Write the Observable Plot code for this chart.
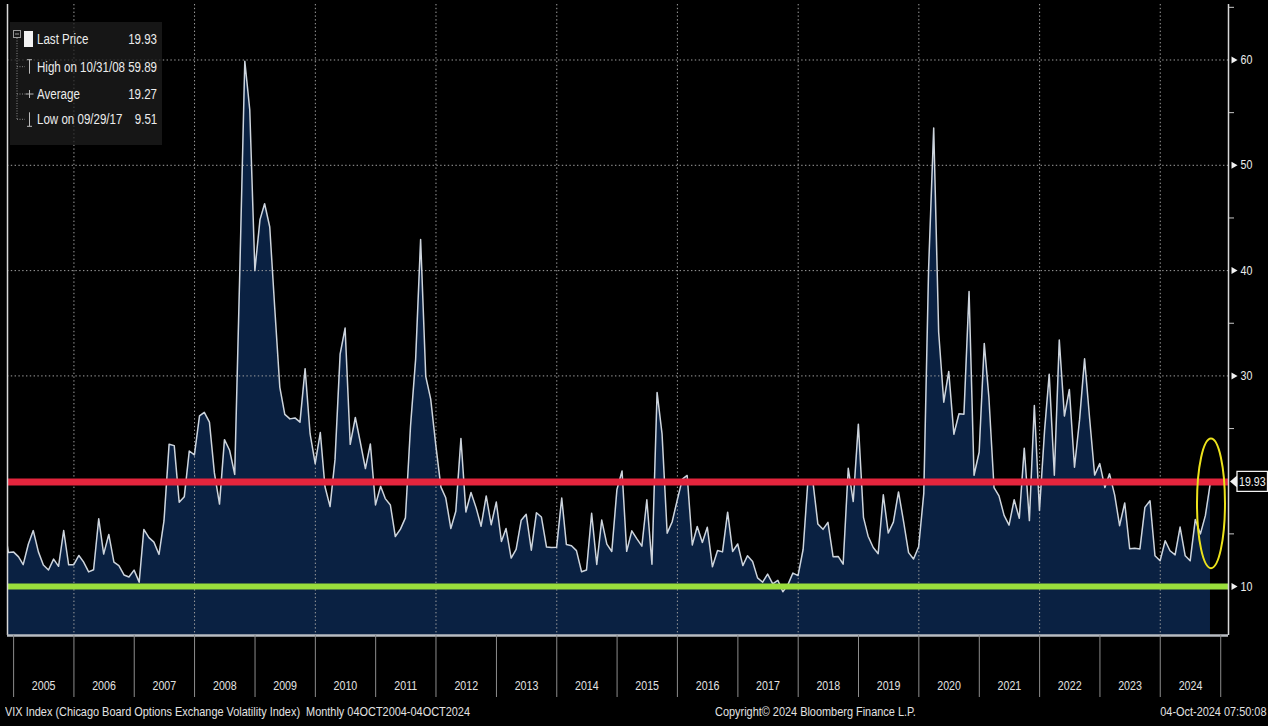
<!DOCTYPE html>
<html>
<head>
<meta charset="utf-8">
<script src="https://cdn.jsdelivr.net/npm/d3@7"></script>
<script src="https://cdn.jsdelivr.net/npm/@observablehq/plot@0.6"></script>
<style>
  html, body { margin: 0; padding: 0; background: #000; }
  #wrap { position: relative; width: 1268px; height: 726px; overflow: hidden;
          font-family: "Liberation Sans", Arial, sans-serif; color: #e6e6e6; }
  #chart { position: absolute; left: 0; top: 0; }
  #legend { position: absolute; left: 10px; top: 22px; width: 152px; height: 123px;
            background: rgba(30,30,30,0.75); }
  #legend svg { position: absolute; left: 0; top: 0; }
  .lrow { position: absolute; left: 27px; right: 5px; height: 18px; line-height: 18px;
          font-size: 14px; color: #ececec; white-space: nowrap; }
  .lrow span { display: inline-block; transform-origin: 0 50%; }
  .lrow .v { position: absolute; right: 0; top: 0; transform-origin: 100% 50%; }
  #footer { position: absolute; left: 0; top: 700px; width: 1268px; height: 24px; }
  #footer span { position: absolute; top: 0; line-height: 24px; font-size: 13px; color: #e2e2e2;
                 white-space: pre; display: inline-block; transform-origin: 0 50%; }
  #footer span.r { transform-origin: 100% 50%; }
</style>
</head>
<body>
<div id="wrap">
  <div id="chart"></div>
  <div id="legend"></div>
  <div id="footer"></div>
</div>
<script>
// ---------------- DATA (monthly closes, VIX Index) ----------------
const firstYear = 2004;
const firstMonth = 9; // October 2004
const vix2004 = [16.27, 13.24, 13.29];
const vix2005 = [12.82, 12.08, 14.02, 15.31, 13.29, 12.04, 11.57, 12.60, 11.92, 15.32, 12.06, 12.07];
const vix2006 = [12.95, 12.34, 11.39, 11.59, 16.44, 13.08, 14.95, 12.31, 11.98, 11.10, 10.91, 11.56];
const vix2007 = [10.42, 15.42, 14.64, 14.22, 13.05, 16.23, 23.52, 23.38, 18.00, 18.53, 22.87, 22.50];
const vix2008 = [26.20, 26.54, 25.61, 20.79, 17.83, 23.95, 22.94, 20.65, 39.39, 59.89, 55.28, 40.00];
const vix2009 = [44.84, 46.35, 44.14, 36.50, 28.92, 26.35, 25.92, 26.01, 25.61, 30.69, 24.51, 21.68];
const vix2010 = [24.62, 19.50, 17.59, 22.05, 32.07, 34.54, 23.50, 26.05, 23.70, 21.20, 23.54, 17.75];
const vix2011 = [19.53, 18.35, 17.74, 14.75, 15.45, 16.52, 25.25, 31.62, 42.96, 29.96, 27.80, 23.40];
const vix2012 = [19.44, 18.43, 15.50, 17.15, 24.06, 17.08, 18.93, 17.47, 15.73, 18.60, 15.87, 18.02];
const vix2013 = [14.28, 15.51, 12.70, 13.52, 16.30, 16.86, 13.45, 17.01, 16.60, 13.75, 13.70, 13.72];
const vix2014 = [18.41, 14.00, 13.88, 13.41, 11.40, 11.57, 16.95, 12.09, 16.31, 14.03, 13.33, 19.20];
const vix2015 = [20.97, 13.34, 15.29, 14.55, 13.84, 18.23, 12.12, 28.43, 24.50, 15.07, 16.13, 18.21];
const vix2016 = [20.20, 20.55, 13.95, 15.70, 14.19, 15.63, 11.87, 13.42, 13.29, 17.06, 13.33, 14.04];
const vix2017 = [11.99, 12.92, 12.37, 10.82, 10.41, 11.18, 10.26, 10.59, 9.51, 10.18, 11.28, 11.04];
const vix2018 = [13.54, 19.85, 19.97, 15.93, 15.43, 16.09, 12.83, 12.86, 12.12, 21.23, 18.07, 25.42];
const vix2019 = [16.57, 14.78, 13.71, 13.12, 18.71, 15.08, 16.12, 18.98, 16.24, 13.22, 12.62, 13.78];
const vix2020 = [18.84, 40.11, 53.54, 34.15, 27.51, 30.43, 24.46, 26.41, 26.37, 38.02, 20.57, 22.75];
const vix2021 = [33.09, 27.95, 19.40, 18.61, 16.76, 15.83, 18.24, 16.48, 23.14, 16.26, 27.19, 17.22];
const vix2022 = [24.83, 30.15, 20.56, 33.40, 26.19, 28.71, 21.33, 25.87, 31.62, 25.88, 20.58, 21.67];
const vix2023 = [19.40, 20.70, 18.70, 15.78, 17.94, 13.59, 13.63, 13.57, 17.52, 18.14, 12.92, 12.45];
const vix2024 = [14.35, 13.40, 13.01, 15.65, 12.92, 12.44, 16.36, 15.00, 16.73, 19.93];

const lastPrice = 19.93;
const lowLevel = 10;
const highlightRange = [11.7, 24.0]; // value span circled on the last months

const legendLabels = ["Last Price", "High on 10/31/08", "Average", "Low on 09/29/17"];
const legendValues = ["19.93", "59.89", "19.27", "9.51"];

const yearLabels = ["2005","2006","2007","2008","2009","2010","2011","2012","2013","2014",
                    "2015","2016","2017","2018","2019","2020","2021","2022","2023","2024"];
const yMajorTicks = [10, 30, 40, 50, 60];
const yMinorTicks = [15, 25, 35, 45, 55, 65];
const yGridValues = [30, 40, 50, 60];

const footerLeft = "VIX Index (Chicago Board Options Exchange Volatility Index)  Monthly 04OCT2004-04OCT2024";
const footerMid = "Copyright\u00A9 2024 Bloomberg Finance L.P.";
const footerRight = "04-Oct-2024 07:50:08";

// ---------------- BUILD TABLE ----------------
const seriesByYear = [vix2004, vix2005, vix2006, vix2007, vix2008, vix2009, vix2010, vix2011,
  vix2012, vix2013, vix2014, vix2015, vix2016, vix2017, vix2018, vix2019, vix2020, vix2021,
  vix2022, vix2023, vix2024];
const data = [];
seriesByYear.forEach((arr, i) => {
  const yr = firstYear + i;
  const m0 = i === 0 ? firstMonth : 0;
  arr.forEach((v, j) => data.push({ date: new Date(Date.UTC(yr, m0 + j + 1, 0)), value: v }));
});
const lastDate = data[data.length - 1].date;

const xDomain = [new Date(Date.UTC(2004, 10, 25)), new Date(Date.UTC(2025, 1, 17))];
const yDomain = [5.35, 65.27];
const yearBoundaries = d3.range(2005, 2026).map(y => new Date(Date.UTC(y, 0, 1)));
const yearMids = yearLabels.map(y => new Date(Date.UTC(+y, 6, 2)));
const gridYears = yearBoundaries.filter(d => d.getUTCFullYear() % 2 === 0 && d < xDomain[1]);

const FONT = "Liberation Sans, Arial, sans-serif";
const SQUEEZE = 0.82;
const SVGNS = "http://www.w3.org/2000/svg";
function el(name, attrs) {
  const e = document.createElementNS(SVGNS, name);
  for (const k in attrs) e.setAttribute(k, attrs[k]);
  return e;
}

// highlight ellipse around the latest readings
function highlightMark(index, scales) {
  const { x, y } = scales;
  const y0 = y(highlightRange[0]), y1 = y(highlightRange[1]);
  return el("ellipse", {
    cx: x(lastDate) + 1, cy: (y0 + y1) / 2, rx: 14, ry: Math.abs(y0 - y1) / 2,
    fill: "none", stroke: "#ece21c", "stroke-width": 2
  });
}

// last price callout on the right axis
function calloutMark(index, scales) {
  const { x, y } = scales;
  const yy = y(lastPrice), x0 = x(xDomain[1]);
  const g = el("g", {});
  g.appendChild(el("path", {
    d: `M${x0 + 9},${yy - 10}H${x0 + 39.5}V${yy + 10}H${x0 + 9}Z`,
    fill: "#000", stroke: "#f2f2f2", "stroke-width": 1.3
  }));
  g.appendChild(el("path", {
    d: `M${x0 + 2},${yy}L${x0 + 9},${yy - 6}V${yy + 6}Z`, fill: "#f2f2f2"
  }));
  const t = el("text", { transform: `translate(${x0 + 11},${yy}) scale(${SQUEEZE},1)`, dy: "0.35em",
    "text-anchor": "start", fill: "#f2f2f2", "font-size": 13, "font-family": FONT });
  t.textContent = lastPrice.toFixed(2);
  g.appendChild(t);
  return g;
}

const dotted = { stroke: "#a0a0a0", strokeDasharray: "1.4,2.4", strokeWidth: 1 };

const chart = Plot.plot({
  width: 1268, height: 700,
  marginLeft: 7, marginRight: 40, marginTop: 4, marginBottom: 65,
  style: { background: "#000", color: "#e6e6e6", fontFamily: FONT, fontSize: "13px" },
  x: { type: "utc", domain: xDomain },
  y: { domain: yDomain },
  marks: [
    Plot.areaY(data, { x: "date", y: "value", fill: "#0a2142", clip: true }),
    Plot.ruleY(yGridValues, dotted),
    Plot.ruleX(gridYears, dotted),
    Plot.lineY(data, { x: "date", y: "value", stroke: "#cdd4dc", strokeWidth: 1.5, clip: true }),
    Plot.ruleY([lastPrice], { stroke: "#e4253d", strokeWidth: 7 }),
    Plot.ruleY([lowLevel], { stroke: "#9ade3c", strokeWidth: 6 }),
    highlightMark,
    // frame lines
    Plot.ruleX([xDomain[0]], { stroke: "#d8d8d8", strokeWidth: 1.5 }),
    Plot.ruleX([xDomain[1]], { stroke: "#d8d8d8", strokeWidth: 1.5 }),
    Plot.ruleY([yDomain[0]], { stroke: "#b8bcc2", strokeWidth: 2.5 }),
    // bottom axis: year separators + labels
    Plot.axisX({ ticks: yearBoundaries, tickSize: 62, tickFormat: () => "", stroke: "#8c8c8c", label: null }),
    Plot.axisX({ ticks: yearMids, tickSize: 0, tickPadding: 45, label: null,
                 tickFormat: d => String(d.getUTCFullYear()), fill: "#e2e2e2", fontSize: 13 }),
    // right axis
    Plot.axisY({ anchor: "right", ticks: yMinorTicks, tickSize: 5, tickFormat: () => "", stroke: "#c8c8c8", label: null }),
    Plot.axisY({ anchor: "right", ticks: yMajorTicks, tickSize: 0, tickPadding: 12, label: null,
                 tickFormat: d => String(d), fill: "#ececec", fontSize: 13 }),
    Plot.dot(yMajorTicks, { y: d => d, frameAnchor: "right", dx: 5, symbol: "triangle",
                            rotate: 90, r: 2.6, fill: "#f2f2f2", stroke: null }),
    calloutMark
  ]
});
document.getElementById("chart").appendChild(chart);

// condense axis tick labels horizontally (the original uses a narrow face)
chart.querySelectorAll('g[aria-label$="tick label"] text').forEach(t => {
  const tr = t.getAttribute("transform");
  if (tr) {
    t.setAttribute("transform", `${tr} scale(${SQUEEZE},1)`);
  } else {
    const x = +(t.getAttribute("x") || 0), y = +(t.getAttribute("y") || 0);
    t.removeAttribute("x"); t.removeAttribute("y");
    t.setAttribute("transform", `translate(${x},${y}) scale(${SQUEEZE},1)`);
  }
});

// ---------------- LEGEND ----------------
const legend = document.getElementById("legend");
const rowCenters = [17, 44.7, 72, 97.3];
const icons = `<svg width="152" height="123">
  <rect x="3.5" y="8.5" width="7" height="7" fill="none" stroke="#9a9a9a" stroke-width="1"/>
  <line x1="5" y1="12" x2="9" y2="12" stroke="#9a9a9a"/>
  <line x1="7" y1="16" x2="7" y2="${rowCenters[3]}" stroke="#8a8a8a" stroke-dasharray="1,1.5"/>
  <line x1="7" y1="${rowCenters[1]}" x2="15" y2="${rowCenters[1]}" stroke="#8a8a8a" stroke-dasharray="1,1.5"/>
  <line x1="7" y1="${rowCenters[2]}" x2="15" y2="${rowCenters[2]}" stroke="#8a8a8a" stroke-dasharray="1,1.5"/>
  <line x1="7" y1="${rowCenters[3]}" x2="15" y2="${rowCenters[3]}" stroke="#8a8a8a" stroke-dasharray="1,1.5"/>
  <rect x="14" y="${rowCenters[0] - 8}" width="9" height="16" fill="#f4f4f4"/>
  <line x1="19.5" y1="${rowCenters[1] - 7}" x2="19.5" y2="${rowCenters[1] + 7}" stroke="#bbb"/>
  <line x1="17" y1="${rowCenters[1] - 7}" x2="22" y2="${rowCenters[1] - 7}" stroke="#bbb"/>
  <line x1="19.5" y1="${rowCenters[2] - 4}" x2="19.5" y2="${rowCenters[2] + 4}" stroke="#bbb"/>
  <line x1="15.5" y1="${rowCenters[2]}" x2="23.5" y2="${rowCenters[2]}" stroke="#bbb"/>
  <line x1="19.5" y1="${rowCenters[3] - 7}" x2="19.5" y2="${rowCenters[3] + 7}" stroke="#bbb"/>
  <line x1="17" y1="${rowCenters[3] + 7}" x2="22" y2="${rowCenters[3] + 7}" stroke="#bbb"/>
</svg>`;
legend.innerHTML = icons;
const legendSpans = [];
legendLabels.forEach((lab, i) => {
  const row = document.createElement("div");
  row.className = "lrow";
  row.style.top = (rowCenters[i] - 9) + "px";
  const a = document.createElement("span"); a.textContent = lab;
  const b = document.createElement("span"); b.className = "v"; b.textContent = legendValues[i];
  row.appendChild(a); row.appendChild(b);
  legend.appendChild(row);
  legendSpans.push(a, b);
});
// fit the widest label ("High on 10/31/08") to the width it has in the original (~88px)
const legendScale = 88 / legendSpans[2].getBoundingClientRect().width;
legendSpans.forEach(s => s.style.transform = `scaleX(${legendScale})`);

// ---------------- FOOTER ----------------
const footer = document.getElementById("footer");
const footerSpans = [[footerLeft, "left", 5], [footerMid, "left", 715], [footerRight, "right", 2]].map(([txt, side, off]) => {
  const s = document.createElement("span");
  s.textContent = txt;
  s.style[side] = off + "px";
  if (side === "right") s.className = "r";
  footer.appendChild(s);
  return s;
});
const footerScale = 465 / footerSpans[0].getBoundingClientRect().width;
footerSpans.forEach(s => s.style.transform = `scaleX(${footerScale})`);
</script>
</body>
</html>
